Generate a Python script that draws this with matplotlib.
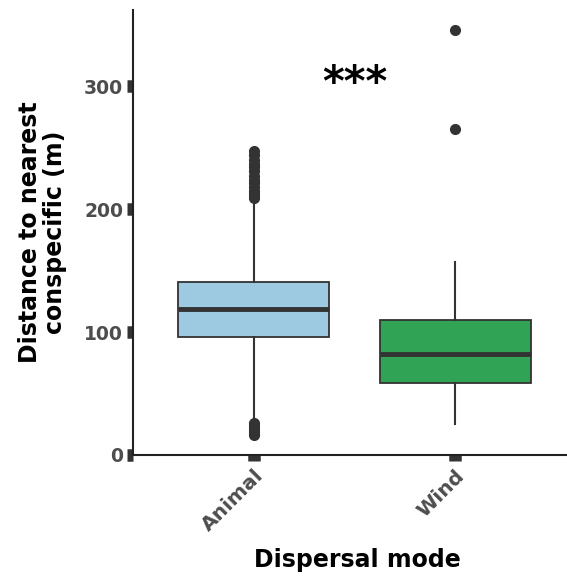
import matplotlib
matplotlib.use("Agg")
import matplotlib.pyplot as plt

categories = ["Animal", "Wind"]
q1 = [96.0, 58.5]
median = [118.5, 82.0]
q3 = [140.7, 109.8]
whisker_low = [29.0, 25.0]
whisker_high = [207.0, 157.0]
fliers_animal = [16, 18, 20, 22, 24, 26, 209, 211, 213, 215, 218, 221, 224, 227, 231, 234, 237, 240, 244, 247]
fliers_wind = [265, 346]
box_colors = ["#9ECAE1", "#31A354"]
yticks = [0, 100, 200, 300]

plt.rcParams['font.family'] = ['DejaVu Sans']

W, H = 567, 577
fig = plt.figure(figsize=(W/100, H/100), dpi=100)
ax = fig.add_axes([133/W, 1-455/H, (576-133)/W, (455-10)/H])

stats = []
for i, c in enumerate(categories):
    stats.append(dict(label=c, med=median[i], q1=q1[i], q3=q3[i],
                      whislo=whisker_low[i], whishi=whisker_high[i],
                      fliers=[fliers_animal, fliers_wind][i]))

edge = "#333333"
bp = ax.bxp(stats, positions=[1, 2], widths=0.75, patch_artist=True, showcaps=False,
            boxprops=dict(edgecolor=edge, linewidth=1.3),
            medianprops=dict(color=edge, linewidth=3.5),
            whiskerprops=dict(color=edge, linewidth=1.5),
            flierprops=dict(marker='o', markerfacecolor=edge, markeredgecolor=edge, markersize=7))
for patch, col in zip(bp['boxes'], box_colors):
    patch.set_facecolor(col)

ax.set_xlim(0.4, 2.6)
ax.set_ylim(0, 362)
ax.set_yticks(yticks)
ax.set_yticklabels([str(v) for v in yticks])
ax.set_xticks([1, 2])
ax.set_xticklabels(categories, rotation=45, ha='right', va='top', rotation_mode='anchor')

for s in ['top', 'right']:
    ax.spines[s].set_visible(False)
for s in ['left', 'bottom']:
    ax.spines[s].set_linewidth(1.5)
    ax.spines[s].set_color('#222222')

ax.tick_params(axis='both', length=4, width=9, color='#333333', labelcolor='#4D4D4D', pad=3)
ax.tick_params(axis='y', labelsize=13.5)
ax.tick_params(axis='x', labelsize=14.5, pad=4)
for lab in ax.get_xticklabels() + ax.get_yticklabels():
    lab.set_fontweight('bold')

fig.text(42.5/W, 1-232.5/H, "Distance to nearest\nconspecific (m)", rotation=90,
         ha='center', va='center', fontsize=17, fontweight='bold', linespacing=1.05)
fig.text(357/W, 1-567/H, "Dispersal mode", ha='center', va='baseline',
         fontsize=17, fontweight='bold')

ax.text(1.5, 302, "***", fontsize=30, ha='center', va='center', fontweight='bold')

fig.savefig("out.png", dpi=100)
